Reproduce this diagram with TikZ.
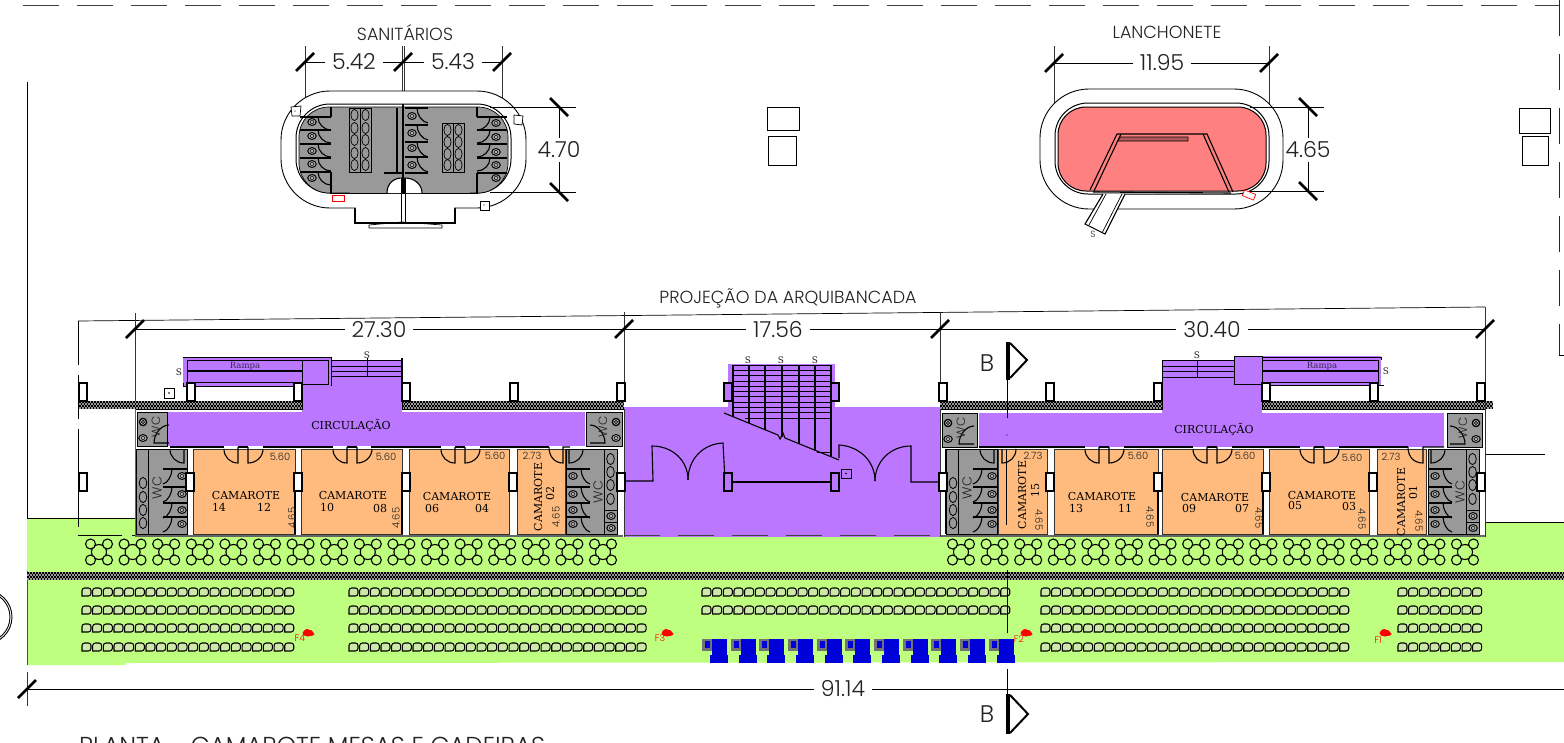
\documentclass[tikz,border=0pt]{standalone}
\usepackage{fontspec}
\setmainfont{Poppins}
\newfontfamily\dimf{Poppins Light}
\newfontfamily\srf{DejaVu Serif}
\definecolor{grn}{HTML}{BFFF7F}
\definecolor{prp}{HTML}{BB77FF}
\definecolor{org}{HTML}{FFBB7D}
\definecolor{gry}{HTML}{999999}
\definecolor{sal}{HTML}{FF8080}
\definecolor{seat}{HTML}{CDE8A8}
\definecolor{ink}{HTML}{222222}
\tikzset{
  thinl/.style={line width=0.7pt,draw=black},
  med/.style={line width=1.1pt,draw=black},
  wallk/.style={line width=1.6pt,draw=black},
  slash/.style={line width=2.6pt,draw=black},
  extl/.style={line width=0.8pt,draw=black!80},
  dimt/.style={font=\dimf\fontsize{22}{22}\selectfont,fill=white,inner xsep=7pt,inner ysep=1pt,text=ink},
  dimv/.style={font=\dimf\fontsize{22}{22}\selectfont,fill=white,inner xsep=2pt,inner ysep=4pt,text=ink},
  titlet/.style={font=\dimf\fontsize{17.5}{17.5}\selectfont,text=ink,inner sep=0pt},
  smallt/.style={font=\dimf\fontsize{10}{10}\selectfont,text=ink,inner sep=0pt},
  camt/.style={font=\srf\fontsize{11}{11}\selectfont,text=black,inner sep=0pt},
  wct/.style={font=\dimf\fontsize{13}{13}\selectfont,text=ink,inner sep=0pt,rotate=90},
  st/.style={font=\srf\fontsize{8.5}{8.5}\selectfont,text=ink,inner sep=0pt},
  redt/.style={font=\dimf\fontsize{9.5}{9.5}\selectfont,text=red,inner sep=0pt},
  col/.style={line width=1.8pt,draw=black,fill=white},
}
% column
\newcommand\colm[2]{\draw[col] (#1-4,#2) rectangle (#1+4,#2+18);}
\newcommand\colp[2]{\draw[col,fill=prp] (#1-4,#2) rectangle (#1+4,#2+18);}
% hatched band: x1 x2 ytop
\newcommand\hatchband[3]{%
  \fill[black!40] (#1,#3) rectangle (#2,#3+8);
  \foreach \hh/\pp in {1/0,3/1.5,5/0,7/1.5}{
    \draw[line width=1.6pt,black,dash pattern=on 1.5pt off 1.5pt,dash phase=\pp pt] (#1,#3+\hh) -- (#2,#3+\hh);
  }%
}
% tick slashes
\newcommand\fslash[2]{\draw[slash] (#1-9,#2+9) -- (#1+9,#2-9);}
\newcommand\bslash[2]{\draw[slash] (#1-9,#2-9) -- (#1+9,#2+9);}
% toilet
\newcommand\toil[2]{\draw[line width=1pt,fill=gry!70] (#1,#2) ellipse (4.2pt and 3.4pt); \draw[line width=.6pt] (#1,#2) ellipse (2pt and 1.5pt);}
% door pair centred cx
\newcommand\dbl[1]{%
  \draw[med] (#1-19,449) .. controls (#1-19,457) and (#1-13,463) .. (#1-5,463) -- (#1-5,447);
  \draw[med] (#1+5,447) -- (#1+5,463) .. controls (#1+13,463) and (#1+20,457) .. (#1+20,449);
  \draw[med] (#1-5,447) -- (#1+5,447);
}
% camarote box
\newcommand\cambox[2]{\draw[line width=1pt,draw=black!80,fill=org] (#1,449) rectangle (#2,534);}
% main WC: ovals left, stalls right
\newcommand\wcA[1]{\begin{scope}[shift={(#1,449)}]
  \draw[line width=1pt,fill=gry] (0,0) rectangle (51,85);
  \draw[line width=1.8pt] (0,0) -- (0,85);
  \draw[thinl] (12,0) -- (12,85);
  \foreach \yy in {34,48,61,74}{\draw[line width=.8pt] (7,\yy) ellipse (3.8pt and 5.6pt);}
  \foreach \yy in {20,38,54,68}{\draw[wallk] (27,\yy) -- (51,\yy); \toil{46}{\yy+7} \draw[med] (36,\yy) .. controls (36,\yy+6) and (32,\yy+14) .. (27,\yy+15);}
  \draw[med] (34,0) .. controls (34,8) and (40,14) .. (48,14) -- (48,0);
\end{scope}
\node[wct] at (#1+21,488) {WC};}
% main WC: stalls left, ovals right with small toilets
\newcommand\wcB[1]{\begin{scope}[shift={(#1,449)}]
  \draw[line width=1pt,fill=gry] (0,0) rectangle (51,85);
  \draw[thinl] (38,0) rectangle (51,61);
  \draw[thinl] (38,61) rectangle (51,85);
  \draw[thinl] (38,73) -- (51,73);
  \foreach \yy in {10,23,36,50}{\draw[line width=.8pt] (44.5,\yy) ellipse (3.8pt and 5.6pt);}
  \toil{45}{67} \toil{45}{79}
  \foreach \yy in {20,38,54,68}{\draw[wallk] (0,\yy) -- (24,\yy); \toil{7}{\yy+7} \draw[med] (15,\yy) .. controls (15,\yy+6) and (19,\yy+14) .. (24,\yy+15);}
  \draw[med] (17,0) .. controls (17,8) and (11,14) .. (3,14) -- (3,0);
\end{scope}
\node[wct] at (#1+32,492) {WC};}
% small WC
\newcommand\wcS[5]{\draw[line width=1pt,fill=gry] (#1,#2) rectangle (#3,#2+34);
  \begin{scope}[shift={(#4,#2)},xscale=#5]
  \draw[line width=1.3pt,fill=gry!60] (6,10) circle (3.6pt);\draw[line width=.8pt] (6,10) circle (1.6pt);
  \toil{6}{26}
  \draw[med] (32,13) .. controls (24,13) and (17,22) .. (17,31) -- (32,31);
  \end{scope}
  \node[wct,font=\dimf\fontsize{12}{12}\selectfont] at (#4+#5*19,#2+15) {WC};}
% seats row group
\newcommand\seats[3]{\foreach \yy in {#3}{\foreach \k in {1,...,#2}{
  \pgfmathsetmacro\xx{#1+(\k-1)*10.67}
  \draw[line width=1.05pt,fill=seat,rounded corners=2.6pt] (\xx,\yy+4) -- (\xx,\yy-4) -- (\xx+9,\yy-4) -- (\xx+9,\yy+4) [sharp corners] -- cycle;
}}}
% tree
\newcommand\tree[1]{
  \draw[line width=1.1pt] (#1,552) circle (7.5pt);
  \foreach \dx/\dy in {-8.5/-8,8.5/-8,-8.5/8,8.5/8}{\draw[line width=1.1pt,fill=grn] (#1+\dx,552+\dy) circle (5pt);}
}
% red spot
\newcommand\spot[2]{\fill[red] (#1,#2) ellipse (5.5pt and 3.5pt); \fill[red] (#1-1,#2-1) circle (3pt); \fill[red] (#1+2,#2+1) ellipse (4.5pt and 2pt);}
\begin{document}
\begin{tikzpicture}[x=1pt,y=-1pt]
\useasboundingbox (0,0) rectangle (1564,742);
\clip (0,0) rectangle (1564,742);
\fill[white] (0,0) rectangle (1564,742);
% ---------- outer frame dashed
\draw[line width=.9pt,black!75,dash pattern=on 36pt off 18pt] (23,5) -- (1559,5);
\draw[line width=.9pt,black!85,dash pattern=on 36pt off 18pt] (1559,0) -- (1559,355);
\draw[thinl] (1559,355) -- (1564,355);
\draw[thinl] (27,82) -- (27,518);
% ---------- ground
\fill[grn] (27,518) -- (135,518) -- (135,537) -- (1485,537) -- (1485,522) -- (1564,522) -- (1564,662) -- (125,663) -- (125,665) -- (27,665) -- cycle;
\draw[thinl] (27,518) -- (135,518);
\draw[thinl] (1485,522) -- (1564,522);
\draw[line width=1pt,black!70] (27,571) -- (27,665);
\hatchband{27}{1564}{572}
% circle far left
\draw[line width=.9pt] (-15,617) circle (27pt);
\draw[line width=.9pt] (-15,617) circle (25pt);
% ---------- buildings floor
\fill[white] (135,409) rectangle (624,537);
\fill[white] (940,409) rectangle (1485,537);
\fill[prp] (624,407) rectangle (940,537);
% ---------- frame of projection
\draw[thinl] (78,321) -- (1485,307);
\draw[line width=.9pt,dash pattern=on 44pt off 10pt] (78,321) -- (78,535);
\draw[line width=.9pt,dash pattern=on 44pt off 10pt] (78,535) -- (135,535);
\draw[line width=.9pt,dash pattern=on 36pt off 18pt,black!75] (624,535) -- (940,535);
\draw[extl] (135,313) -- (135,409);
\draw[extl] (624,312) -- (624,400);
\draw[extl] (940,312) -- (940,383);
\draw[extl] (1485,307) -- (1485,383);
\draw[thinl] (1485,454) -- (1545,454);
% dims row
\draw[thinl] (135,329) -- (1485,329);
\node[dimt] at (379,330) {27.30};
\node[dimt] at (778,330) {17.56};
\node[dimt] at (1212,330) {30.40};
\foreach \xx in {135,624,940,1485}{\fslash{\xx}{329}}
\node[titlet] at (788,298) {PROJEÇÃO DA ARQUIBANCADA};
% ---------- left circulation and ramp
\fill[prp] (168,412) rectangle (585,446);
\fill[prp] (302,376) rectangle (402,412);
\fill[prp] (183,357) rectangle (331,386);
\fill[prp] (331,360) rectangle (402,377);
\hatchband{79}{302}{401}
\hatchband{402}{624}{401}
\draw[thinl] (135,409) -- (302,409) -- (302,385);
\draw[thinl] (402,382) -- (402,409) -- (624,409);
\draw[thinl] (183,357) -- (331,357) -- (331,386);
\draw[thinl] (187,360) -- (328,360) -- (328,384) -- (302,384);
\draw[thinl] (187,360) -- (187,382);
\draw[med] (187,371) -- (302,371);
\draw[thinl] (187,382) -- (302,382);
\draw[thinl] (302,360) -- (302,382);
\draw[thinl] (183,383) -- (183,386) -- (302,386);
\draw[thinl] (331,360) -- (402,360);
\draw[thinl] (331,366) -- (402,366);
\draw[thinl] (331,371) -- (402,371);
\draw[thinl] (331,376) -- (402,376);
\draw[thinl] (367,358) -- (367,377);
\draw[wallk,line width=1.4pt] (402,358) -- (402,383);
\node[st,text=black!70!prp] at (245,366) {Rampa};
\node[st,font=\srf\fontsize{9}{9}\selectfont] at (179,372) {S};
\node[st,font=\srf\fontsize{9}{9}\selectfont] at (367,355) {S};
\draw[thinl] (164,388) rectangle (174,398);
\fill (169,393) circle (.8pt);
\node[camt,font=\srf\fontsize{11}{11}\selectfont] at (351,425) {CIRCULAÇÃO};
% ---------- left building rooms
\cambox{193}{295} \cambox{301}{402} \cambox{409}{509} \cambox{517}{565}
\draw[line width=1.6pt] (295,492) -- (295,534);
\draw[line width=1.6pt] (402,492) -- (402,534);
\wcS{137}{412}{167}{137}{1}
\wcS{586}{412}{622}{622}{-1}
\wcA{136}
\wcB{566}
\draw[med] (170,447) -- (224,447);
\draw[med] (263,447) -- (333,447);
\draw[med] (371,447) -- (441,447);
\draw[med] (480,447) -- (549,447);
\draw[med] (549,447) .. controls (549,457) and (555,463) .. (563,463) -- (563,447) -- (570,447);
\dbl{243} \dbl{352} \dbl{460}
\draw[line width=2pt,black!60] (136,536) -- (623,536);
\draw[line width=1pt,black!80] (624,409) -- (624,537);
\draw[line width=1pt,black!60] (135,409) -- (135,537);
\node[camt] at (246,495) {CAMAROTE};
\node[camt] at (219,507) {14};
\node[camt] at (264,507) {12};
\node[camt] at (353,495) {CAMAROTE};
\node[camt] at (327,507) {10};
\node[camt] at (380,508) {08};
\node[camt] at (457,496) {CAMAROTE};
\node[camt] at (432,508) {06};
\node[camt] at (482,508) {04};
\node[camt,rotate=90] at (538,497) {CAMAROTE};
\node[camt,rotate=90] at (550,493) {02};
\node[smallt] at (280,457) {5.60};
\node[smallt] at (386,457) {5.60};
\node[smallt] at (495,456) {5.60};
\node[smallt] at (532,456) {2.73};
\node[smallt,rotate=90] at (292,518) {4.65};
\node[smallt,rotate=90] at (396,518) {4.65};
\node[smallt,rotate=90] at (556,517) {4.65};
% ---------- central staircase
\fill[prp] (728,364) rectangle (835,407);
\foreach \yy in {365,370.3,375.6,380.9,386.2,391.5,396.8,402.1,407.4,412.7}{\draw[thinl] (733,\yy) -- (831,\yy);}
\draw[thinl] (745,418) -- (831,418);
\draw[thinl] (817,452) -- (831,452);
\foreach \xx/\yy in {733/417,749/423,765/430,782/437,799/444,815/450,831/457}{\draw[med] (\xx,365) -- (\xx,\yy);}
\draw[med] (724,413) -- (778,435) -- (780,439) -- (783,433) -- (785,438) -- (839,460);
\node[st,font=\srf\fontsize{9}{9}\selectfont] at (748,360) {S};
\node[st,font=\srf\fontsize{9}{9}\selectfont] at (781,360) {S};
\node[st,font=\srf\fontsize{9}{9}\selectfont] at (815,360) {S};
\colp{728}{383} \colp{835}{383}
% central doors
\draw[med] (624,481) -- (653,481) -- (652,446) .. controls (672,446) and (688,460) .. (688,480);
\draw[med] (688,480) .. controls (688,460) and (702,444) .. (723,443) -- (725,481);
\draw[med] (733,482) -- (832,482);
\draw[med] (839,458) -- (839,445) .. controls (858,446) and (875,460) .. (875,481);
\draw[med] (875,481) .. controls (875,462) and (890,446) .. (911,446) -- (911,482) -- (940,482);
\draw[thinl] (841,469) rectangle (851,478);
\fill (846,473.5) circle (.8pt);
\colp{728}{473} \colp{835}{473}
% ---------- right circulation and ramp
\fill[prp] (979,413) rectangle (1444,447);
\fill[prp] (1162,377) rectangle (1262,413);
\fill[prp] (1162,360) rectangle (1234,377);
\fill[prp] (1234,356) rectangle (1381,385);
\hatchband{940}{1162}{401}
\hatchband{1262}{1493}{401}
\draw[thinl] (940,409) -- (1162,409) -- (1162,360);
\draw[thinl] (1262,385) -- (1262,409) -- (1485,409);
\draw[thinl] (1162,360) -- (1234,360);
\draw[thinl] (1162,366) -- (1234,366);
\draw[thinl] (1162,371) -- (1234,371);
\draw[thinl] (1162,377) -- (1234,377);
\draw[thinl] (1197,360) -- (1197,377);
\draw[thinl] (1234,356) rectangle (1262,384);
\draw[thinl] (1262,357) -- (1381,357) -- (1381,360);
\draw[thinl] (1262,360) -- (1378,360) -- (1378,382) -- (1262,382);
\draw[med] (1262,371) -- (1378,371);
\draw[thinl] (1262,385) -- (1384,385);
\node[st,text=black!70!prp] at (1322,366) {Rampa};
\node[st,font=\srf\fontsize{9}{9}\selectfont] at (1386,371) {S};
\node[st,font=\srf\fontsize{9}{9}\selectfont] at (1197,355) {S};
\node[camt,font=\srf\fontsize{11}{11}\selectfont] at (1214,429) {CIRCULAÇÃO};
% rooms
\cambox{998}{1047} \cambox{1054}{1158} \cambox{1162}{1263} \cambox{1269}{1369} \cambox{1377}{1426}
\draw[line width=1.6pt] (1158,492) -- (1158,534);
\draw[line width=1.6pt] (1263,492) -- (1263,534);
\wcS{942}{413}{977}{942}{1}
\wcS{1447}{413}{1482}{1482}{-1}
\wcA{946}
\wcB{1428}
\draw[med] (979,447) -- (1016,447);
\draw[med] (1002,449) -- (1002,463) .. controls (1010,463) and (1016,457) .. (1016,449);
\draw[med] (1016,447) -- (1085,447);
\draw[med] (1124,447) -- (1193,447);
\draw[med] (1232,447) -- (1300,447);
\draw[med] (1339,447) -- (1408,447);
\draw[med] (1408,447) .. controls (1408,457) and (1414,463) .. (1423,463) -- (1423,447) -- (1444,447);
\dbl{1104} \dbl{1212} \dbl{1319}
\draw[line width=2pt,black!60] (941,536) -- (1485,536);
\draw[line width=1pt,black!80] (940,409) -- (940,537);
\draw[line width=1pt,black!80] (1485,383) -- (1485,537);
\node[camt,rotate=90] at (1022,495) {CAMAROTE};
\node[camt,rotate=90] at (1035,490) {15};
\node[camt] at (1102,496) {CAMAROTE};
\node[camt] at (1076,508) {13};
\node[camt] at (1125,508) {11};
\node[camt] at (1215,497) {CAMAROTE};
\node[camt] at (1189,508) {09};
\node[camt] at (1242,508) {07};
\node[camt] at (1322,495) {CAMAROTE};
\node[camt] at (1295,505) {05};
\node[camt] at (1349,506) {03};
\node[camt,rotate=90] at (1401,502) {CAMAROTE};
\node[camt,rotate=90] at (1413,492) {01};
\node[smallt] at (1033,456) {2.73};
\node[smallt] at (1138,456) {5.60};
\node[smallt] at (1245,456) {5.60};
\node[smallt] at (1352,458) {5.60};
\node[smallt] at (1391,457) {2.73};
\node[smallt,rotate=-90] at (1039,520) {4.65};
\node[smallt,rotate=-90] at (1150,517) {4.65};
\node[smallt,rotate=-90] at (1259,518) {4.65};
\node[smallt,rotate=-90] at (1362,519) {4.65};
\node[smallt,rotate=-90] at (1419,521) {4.65};
% ---------- columns
\foreach \xx in {83,191,298,406,514,621,943,1050,1158,1266,1374,1481}{\colm{\xx}{383}}
\foreach \xx in {83,190,298,406,513,621,943,1050,1158,1266,1373,1481}{\colm{\xx}{473}}
% ---------- trees
\foreach \k in {0,...,15}{\pgfmathsetmacro\tx{99+\k*33.6}\tree{\tx}}
\foreach \k in {0,...,15}{\pgfmathsetmacro\tx{961+\k*33.6}\tree{\tx}}
% ---------- seats
\seats{82}{20}{592,610,628,647}
\seats{349}{28}{592,610,628,647}
\seats{702}{29}{592,610}
\seats{1041}{29}{592,610,628,647}
\seats{1398}{8}{592,610,628,647}
% ---------- blue units
\foreach \k in {0,...,10}{
  \pgfmathsetmacro\bx{702+\k*28.67}
  \fill[black!55] (\bx,639) rectangle (\bx+11,651);
  \fill[blue!85!black] (\bx+3,641) rectangle (\bx+8,648);
  \fill[blue!85!black] (\bx+10,639) rectangle (\bx+25,663);
  \fill[blue!85!black] (\bx+8,655) rectangle (\bx+26,663);
}
% ---------- red projectors
\spot{308}{633} \spot{667}{633} \spot{1026}{633} \spot{1385}{633}
\node[redt] at (300,638) {F4};
\node[redt] at (660,638) {F3};
\node[redt] at (1019,639) {F2};
\node[redt] at (1378,640) {F1};
% ---------- section B
\draw[thinl] (1007,380) -- (1007,418);
\fill (1007,435) circle (.7pt);
\draw[thinl] (1006,450) -- (1006,525);
\draw[thinl] (1007,570) -- (1007,633);
\draw[thinl] (1007,669) -- (1007,694);
\fill[black] (1006,342) rectangle (1009.5,380);
\draw[line width=2pt,black] (1010,343) -- (1027,360) -- (1010,378);
\fill[black] (1006,694) rectangle (1009.5,734);
\draw[line width=2pt,black] (1010,695) -- (1028,714) -- (1010,733);
\node[titlet,font=\dimf\fontsize{24}{24}\selectfont] at (987,363) {B};
\node[titlet,font=\dimf\fontsize{24}{24}\selectfont] at (987,714) {B};
% ---------- bottom dimension
\draw[extl] (27,672) -- (27,706);
\draw[thinl] (27,689) -- (1564,689);
\node[dimt] at (843,689) {91.14};
\fslash{27}{689}
\node[titlet,anchor=west,font=\dimf\fontsize{24.5}{24.5}\selectfont] at (79,746) {PLANTA - CAMAROTE MESAS E CADEIRAS};
% ---------- sanitarios
\node[titlet] at (405,33) {SANITÁRIOS};
\draw[extl] (305,46) -- (305,100);
\draw[extl] (402,46) -- (402,100);
\draw[extl] (404,46) -- (404,100);
\draw[extl] (502,46) -- (502,110);
\draw[thinl] (305,62) -- (502,62);
\node[dimt] at (354,62) {5.42};
\node[dimt] at (453,62) {5.43};
\fslash{305}{62} \fslash{403}{62} \fslash{502}{62}
\draw[med,fill=white] (355,208) -- (355,223) -- (455,223) -- (455,208);
\draw[line width=.9pt,fill=white,rounded corners=49pt] (281,91) rectangle (526,208);
\fill[white] (356,204) rectangle (454,222);
\draw[thinl] (369,225) -- (402,222) -- (442,225) -- (442,228) -- (369,228) -- cycle;
\draw[thinl] (401,193) -- (401,224);
\draw[thinl] (405,193) -- (405,224);
\draw[line width=1pt,fill=white,rounded corners=34pt] (296,104) rectangle (511,193);
\draw[thinl,fill=gry,rounded corners=30pt] (299,107) rectangle (508,193);
\fill[gry] (350,150) rectangle (470,193);
\draw[thinl] (330,193) -- (478,193);
\foreach \yy in {117,130,144,158,172}{
  \draw[wallk] (300,\yy) -- (331,\yy);
  \draw[med] (318,\yy) .. controls (318,\yy+7) and (324,\yy+13) .. (331,\yy+13);
}
\foreach \yy in {122,136,151,164,178}{\toil{312}{\yy}}
\draw[wallk] (331,107) -- (331,117);
\draw[wallk] (331,172) -- (331,193);
\foreach \yy in {108,125,142,157,173}{
  \draw[wallk] (405,\yy) -- (428,\yy);
}
\foreach \yy in {108,125,142,157}{
  \draw[med] (417,\yy) .. controls (417,\yy+7) and (422,\yy+14) .. (428,\yy+15);
}
\foreach \yy in {116,133,148,165}{\toil{412}{\yy}}
\foreach \yy in {117,130,144,158,173}{
  \draw[wallk] (477,\yy) -- (507,\yy);
}
\foreach \yy in {117,130,144,158}{
  \draw[med] (490,\yy) .. controls (490,\yy+7) and (484,\yy+13) .. (477,\yy+13);
}
\foreach \yy in {123,137,152,165,178}{\toil{496}{\yy}}
\draw[wallk] (477,107) -- (477,117);
\draw[wallk] (477,173) -- (477,193);
\draw[thinl,fill=gry] (349,108) rectangle (371,172);
\draw[thinl] (360,108) -- (360,172);
\foreach \xx in {354.5,365.5}{\foreach \yy in {115,128,140,153,165}{\draw[line width=.7pt] (\xx,\yy) ellipse (3.6pt and 5.6pt);}}
\draw[thinl,fill=gry] (442,123) rectangle (464,172);
\draw[thinl] (453,123) -- (453,172);
\foreach \xx in {447.5,458.5}{\foreach \yy in {130,142,154,165}{\draw[line width=.7pt] (\xx,\yy) ellipse (3.6pt and 5.6pt);}}
\draw[wallk] (397,108) -- (397,173);
\draw[med] (384,173) -- (403,173);
\draw[line width=2.4pt] (403,104) -- (403,193);
\draw[med,fill=white] (387,193) .. controls (387,184) and (393,178) .. (402,178) -- (402,193);
\draw[med,fill=white] (405,193) -- (405,178) .. controls (414,178) and (422,184) .. (422,193);
\draw[line width=2.4pt] (402,178) -- (402,193);
\draw[line width=2.4pt] (405,178) -- (405,193);
\draw[thinl,fill=white] (291,107) -- (301,106) -- (300,116) -- (292,116) -- cycle;
\fill (295,111) circle (.6pt);
\draw[thinl,fill=white] (514,115) -- (523,116) -- (522,125) -- (514,124) -- cycle;
\draw[thinl,fill=white] (480,201) rectangle (489,210);
\fill (484,205) circle (.6pt);
\draw[red,line width=.7pt,fill=white] (332,195) rectangle (344,201);
% right dim sanitarios
\draw[thinl] (490,107) -- (576,107);
\draw[thinl] (490,192) -- (576,192);
\draw[thinl] (559,107) -- (559,192);
\node[dimv] at (559,150) {4.70};
\bslash{559}{107} \bslash{559}{192}
% ---------- lanchonete
\node[titlet] at (1167,32) {LANCHONETE};
\draw[extl] (1054,46) -- (1054,112);
\draw[extl] (1269,46) -- (1269,112);
\draw[thinl] (1054,63) -- (1269,63);
\node[dimt] at (1162,63) {11.95};
\fslash{1054}{63} \fslash{1269}{63}
\draw[line width=.9pt,rounded corners=49pt,fill=white] (1040,89) rectangle (1283,209);
\draw[line width=1pt,rounded corners=33pt,fill=white] (1055,103) rectangle (1269,194);
\draw[line width=1pt,rounded corners=28pt,fill=sal] (1058,107) rectangle (1266,191);
\draw[med] (1093,192) -- (1231,193);
\draw[med] (1090,190) -- (1117,134) -- (1207,134) -- (1233,192);
\draw[med] (1094,191) -- (1121,134);
\draw[med] (1203,134) -- (1229,192);
\draw[thinl,fill=sal!70!black] (1120,137) -- (1188,137) -- (1188,141) -- (1118,141) -- cycle;
\draw[med,fill=white] (1103,194) -- (1085,224) -- (1105,234) -- (1125,194);
\draw[thinl] (1106,194) -- (1089,225);
\draw[thinl] (1122,194) -- (1102,233);
\node[st,font=\dimf\fontsize{9}{9}\selectfont] at (1093,234) {S};
\draw[red,line width=.7pt,fill=white,rotate around={-22:(1249,195)}] (1243,192) rectangle (1255,198);
\draw[thinl] (1250,107) -- (1324,107);
\draw[thinl] (1250,191) -- (1324,191);
\draw[thinl] (1308,107) -- (1308,191);
\node[dimv] at (1308,150) {4.65};
\bslash{1308}{107} \bslash{1308}{191}
% ---------- detached squares
\draw[thinl] (767,107) rectangle (799,130);
\draw[thinl] (768,136) rectangle (796,165);
\draw[thinl] (1519,108) rectangle (1550,133);
\draw[thinl] (1522,136) rectangle (1548,165);
\end{tikzpicture}
\end{document}
